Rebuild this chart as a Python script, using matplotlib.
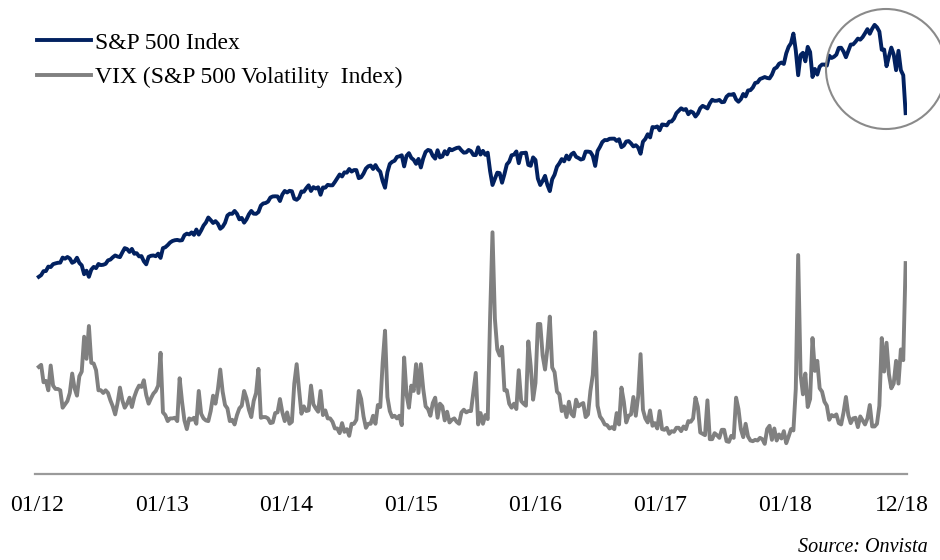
import matplotlib
matplotlib.use("Agg")
import matplotlib.pyplot as plt
import pandas as pd
from matplotlib.patches import Ellipse

plt.rcParams['font.family'] = ['Liberation Serif', 'DejaVu Serif']

# weekly readings (Fridays) from 01/2012 to 12/2018
sp500 = [
    # 2012
    1278, 1289, 1315, 1316, 1345, 1342, 1361, 1366, 1370, 1371, 1404, 1397, 1408,
    1398, 1370, 1378, 1403, 1369, 1353, 1295, 1318, 1278, 1325, 1343, 1335, 1362,
    1355, 1357, 1363, 1386, 1391, 1406, 1418, 1411, 1407, 1438, 1466, 1460, 1441,
    1461, 1429, 1433, 1412, 1414, 1380, 1360, 1409, 1416, 1418, 1413, 1430, 1402,
    # 2013
    1466, 1472, 1486, 1503, 1513, 1518, 1520, 1516, 1518, 1551, 1561, 1556, 1569,
    1553, 1588, 1555, 1582, 1614, 1634, 1667, 1650, 1631, 1643, 1626, 1593, 1606,
    1632, 1680, 1692, 1691, 1710, 1691, 1655, 1664, 1633, 1655, 1688, 1710, 1692,
    1691, 1703, 1745, 1759, 1762, 1771, 1798, 1805, 1806, 1805, 1775, 1818, 1841,
    # 2014
    1831, 1842, 1839, 1790, 1783, 1797, 1838, 1836, 1859, 1878, 1841, 1866, 1857,
    1865, 1816, 1864, 1863, 1881, 1878, 1878, 1900, 1924, 1949, 1936, 1963, 1961,
    1985, 1968, 1978, 1978, 1925, 1931, 1955, 1988, 2003, 2008, 1985, 2011, 1983,
    1967, 1906, 1862, 1964, 2018, 2032, 2039, 2064, 2068, 2075, 2002, 2071, 2089,
    # 2015
    2058, 2045, 2019, 2051, 1995, 2055, 2097, 2110, 2105, 2071, 2053, 2108, 2061,
    2067, 2102, 2081, 2117, 2108, 2116, 2123, 2126, 2107, 2092, 2094, 2110, 2102,
    2077, 2076, 2127, 2080, 2104, 2078, 2092, 1971, 1880, 1921, 1961, 1958, 1895,
    1951, 2015, 2033, 2075, 2079, 2100, 2023, 2089, 2090, 2092, 2012, 2006, 2061,
    # 2016
    2044, 1922, 1880, 1907, 1940, 1880, 1840, 1918, 1948, 2000, 2022, 2050, 2035,
    2073, 2048, 2081, 2092, 2065, 2057, 2047, 2052, 2099, 2099, 2096, 2071, 2005,
    2103, 2130, 2162, 2175, 2174, 2183, 2184, 2184, 2169, 2180, 2128, 2139, 2165,
    2168, 2153, 2133, 2141, 2126, 2085, 2164, 2182, 2213, 2192, 2260, 2258, 2264, 2239,
    # 2017
    2277, 2275, 2271, 2295, 2297, 2316, 2351, 2367, 2383, 2373, 2378, 2344, 2363,
    2355, 2329, 2349, 2384, 2399, 2391, 2382, 2416, 2439, 2432, 2433, 2438, 2423,
    2425, 2459, 2473, 2472, 2477, 2441, 2426, 2443, 2477, 2461, 2500, 2502, 2519,
    2549, 2553, 2575, 2581, 2588, 2582, 2579, 2603, 2642, 2651, 2675, 2683, 2674,
    # 2018
    2743, 2786, 2810, 2873, 2762, 2600, 2732, 2747, 2691, 2786, 2752, 2588, 2641,
    2604, 2656, 2670, 2670, 2663, 2728, 2713, 2721, 2735, 2779, 2780, 2755, 2718,
    2760, 2801, 2802, 2819, 2840, 2833, 2850, 2875, 2902, 2872, 2905, 2930, 2914,
    2886, 2767, 2768, 2659, 2723, 2781, 2736, 2633, 2760, 2633, 2600, 2351,
]

vix = [
    # 2012
    20.6, 20.9, 18.3, 18.5, 17.1, 20.8, 17.8, 17.3, 17.3, 17.1, 14.5, 15.0, 15.5,
    16.7, 19.6, 17.4, 16.3, 19.2, 19.9, 25.1, 21.8, 26.7, 21.2, 21.1, 20.1, 17.1,
    17.1, 16.7, 17.1, 16.7, 15.6, 14.7, 13.5, 15.2, 17.5, 15.6, 14.5, 15.1, 16.0,
    14.6, 16.1, 17.1, 17.8, 17.6, 18.6, 16.4, 15.1, 15.9, 16.6, 17.0, 17.8, 22.7,
    # 2013
    13.8, 13.4, 12.5, 12.9, 12.9, 13.0, 12.5, 18.9, 15.4, 12.6, 11.3, 12.9, 12.7,
    13.0, 12.1, 17.0, 13.6, 12.9, 12.6, 12.5, 14.0, 16.3, 15.1, 17.2, 20.2, 16.9,
    14.9, 14.4, 12.5, 12.7, 12.0, 13.4, 14.4, 14.8, 17.0, 15.9, 14.2, 13.1, 15.5,
    16.7, 20.3, 13.0, 13.1, 13.1, 12.9, 12.2, 12.3, 13.7, 13.8, 15.8, 13.8, 12.5,
    # 2014
    13.8, 12.1, 12.4, 18.1, 21.0, 17.2, 13.6, 14.7, 14.0, 14.1, 17.8, 15.0, 14.4,
    13.9, 17.0, 13.4, 14.1, 12.9, 12.9, 12.4, 11.4, 11.4, 10.7, 12.2, 10.9, 11.3,
    10.3, 12.1, 12.1, 12.7, 17.0, 15.8, 13.2, 11.5, 12.1, 12.1, 13.3, 12.1, 14.9,
    14.6, 21.2, 26.0, 16.1, 14.0, 13.1, 13.3, 12.9, 13.3, 11.9, 22.0, 16.5, 14.5,
    # 2015
    17.8, 17.0, 21.0, 16.7, 21.0, 17.3, 14.7, 14.3, 13.3, 15.2, 16.0, 13.0, 15.1,
    14.7, 12.6, 13.9, 12.3, 12.7, 12.9, 12.4, 12.1, 13.8, 14.2, 13.8, 14.0, 14.0,
    16.8, 19.7, 12.0, 13.7, 12.1, 13.4, 12.8, 28.0, 40.7, 27.8, 23.2, 22.3, 23.6,
    17.1, 17.1, 15.1, 14.5, 15.1, 14.3, 20.1, 15.5, 15.1, 14.8, 24.4, 20.7, 15.7,
    # 2016
    18.2, 27.0, 27.0, 22.3, 20.2, 23.4, 28.1, 20.5, 19.8, 16.9, 16.5, 14.0, 14.7,
    13.1, 15.4, 13.6, 13.2, 15.7, 14.7, 15.0, 15.2, 13.1, 13.5, 17.0, 19.4, 25.8,
    14.8, 13.2, 12.7, 12.0, 11.9, 11.4, 11.6, 11.3, 13.7, 12.0, 17.5, 15.4, 12.3,
    13.3, 13.5, 16.1, 13.3, 16.2, 22.5, 14.2, 12.9, 12.3, 14.1, 11.8, 12.2, 11.4, 14.0,
    # 2017
    11.3, 11.2, 11.5, 10.6, 11.0, 10.9, 11.5, 11.5, 11.0, 11.7, 11.3, 12.5, 12.4,
    12.9, 16.0, 14.6, 10.8, 10.6, 10.4, 15.6, 9.8, 9.8, 10.7, 10.4, 10.0, 11.2,
    11.2, 9.5, 9.4, 10.3, 10.0, 16.0, 14.3, 11.3, 10.1, 12.1, 10.2, 9.6, 9.5,
    9.7, 9.6, 10.0, 9.8, 9.1, 11.3, 11.8, 9.7, 11.4, 9.6, 10.5, 9.9, 11.0,
    # 2018
    9.2, 10.2, 11.3, 11.1, 17.3, 37.3, 19.5, 16.5, 19.6, 14.6, 15.8, 24.9, 20.0,
    21.5, 17.4, 16.9, 15.4, 14.8, 12.7, 13.4, 13.2, 13.5, 12.2, 12.0, 13.8, 16.1,
    13.4, 12.2, 12.9, 13.0, 11.6, 13.2, 12.6, 12.0, 12.9, 14.9, 11.7, 11.7, 12.1,
    14.8, 24.9, 19.9, 24.2, 19.5, 17.4, 18.1, 21.5, 18.1, 23.2, 21.6, 36.1,
]

tick_dates = ['2012-01-01', '2013-01-01', '2014-01-01', '2015-01-01',
              '2016-01-01', '2017-01-01', '2018-01-01', '2018-12-10']
tick_labels = ['01/12', '01/13', '01/14', '01/15', '01/16', '01/17', '01/18', '12/18']

dates = pd.date_range('2012-01-06', periods=len(sp500), freq='W-FRI')

navy = '#022160'
grey = '#808080'

fig = plt.figure(figsize=(9.4, 5.6), dpi=100)
ax = fig.add_axes([35 / 940, 86 / 560, 872 / 940, 454 / 560])
ax2 = ax.twinx()

# S&P oben, VIX unten (eigene Skala)
l1, = ax.plot(dates, sp500, color=navy, lw=2.8, label='S&P 500 Index')
l2, = ax2.plot(dates, vix, color=grey, lw=2.8, label='VIX (S&P 500 Volatility  Index)')

ax.set_ylim(-15, 2962)
ax2.set_ylim(4.6, 72.4)
ax.set_xlim(pd.Timestamp('2011-12-26'), pd.Timestamp('2018-12-25'))

for a in (ax, ax2):
    for s in ['top', 'right', 'left', 'bottom']:
        a.spines[s].set_visible(False)
    a.set_yticks([])
ax.spines['bottom'].set_visible(True)
ax.spines['bottom'].set_color('#9a9a9a')
ax.spines['bottom'].set_linewidth(1.6)

ax.set_xticks(pd.to_datetime(tick_dates))
ax.set_xticklabels(tick_labels)
ax.tick_params(axis='x', length=0, pad=15, labelsize=17)

# Legende oben links
fig.legend(handles=[l1, l2], loc='upper left', bbox_to_anchor=(37 / 940, 1 - 32 / 560),
           frameon=False, fontsize=17, handlelength=2.3, handletextpad=0.15,
           borderpad=0, borderaxespad=0, labelspacing=0.55)

# Kreis um den Einbruch Ende 2018
fig.add_artist(Ellipse((886 / 940, 1 - 69 / 560), 120 / 940, 120 / 560,
                       transform=fig.transFigure, fill=False, ec='#8a8a8a', lw=1.5))

fig.text(928 / 940, 1 - 548 / 560, 'Source: Onvista', ha='right', va='center',
         fontsize=14.5, style='italic')

plt.savefig('out.png', dpi=100)
